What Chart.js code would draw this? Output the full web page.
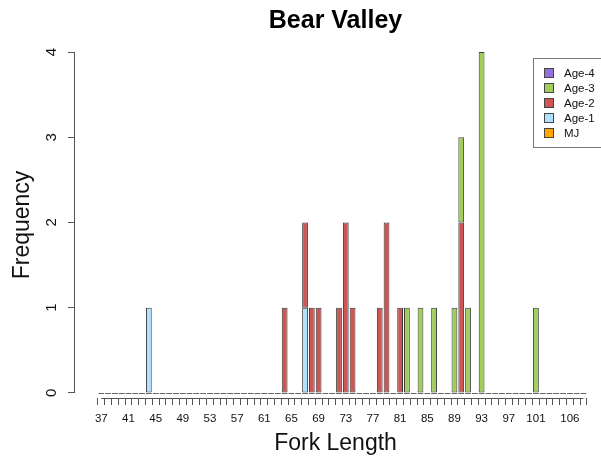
<!DOCTYPE html>
<html lang="en">
<head>
<meta charset="UTF-8">
<title>Bear Valley</title>
<script src="https://cdn.jsdelivr.net/npm/chart.js"></script>
<style>
    html, body { margin: 0; padding: 0; background: #fff; }
    .chart-box { width: 601px; height: 461px; }
</style>
</head>
<body>
<div class="chart-box">
    <canvas id="forkChart" width="601" height="461"></canvas>
</div>
<script>
    // Fork length bins (cm) 37..108
    const forkLengths = [37,38,39,40,41,42,43,44,45,46,47,48,49,50,51,52,53,54,55,56,57,58,59,60,
        61,62,63,64,65,66,67,68,69,70,71,72,73,74,75,76,77,78,79,80,81,82,83,84,
        85,86,87,88,89,90,91,92,93,94,95,96,97,98,99,100,101,102,103,104,105,106,107,108];
    const xLabels = [37,41,45,49,53,57,61,65,69,73,77,81,85,89,93,97,101,106];
    const yTicks = [0,1,2,3,4];

    //                37         45         53         61         69         77         85         93         101        108
    const mj      = [0,0,0,0,0,0,0,0, 0,0,0,0,0,0,0,0, 0,0,0,0,0,0,0,0, 0,0,0,0,0,0,0,0, 0,0,0,0,0,0,0,0, 0,0,0,0,0,0,0,0, 0,0,0,0,0,0,0,0, 0,0,0,0,0,0,0,0, 0,0,0,0,0,0,0,0];
    const age1    = [0,0,0,0,0,0,0,1, 0,0,0,0,0,0,0,0, 0,0,0,0,0,0,0,0, 0,0,0,0,0,0,1,0, 0,0,0,0,0,0,0,0, 0,0,0,0,0,0,0,0, 0,0,0,0,0,0,0,0, 0,0,0,0,0,0,0,0, 0,0,0,0,0,0,0,0];
    const age2    = [0,0,0,0,0,0,0,0, 0,0,0,0,0,0,0,0, 0,0,0,0,0,0,0,0, 0,0,0,1,0,0,1,1, 1,0,0,1,2,1,0,0, 0,1,2,0,1,0,0,0, 0,0,0,0,0,2,0,0, 0,0,0,0,0,0,0,0, 0,0,0,0,0,0,0,0];
    const age3    = [0,0,0,0,0,0,0,0, 0,0,0,0,0,0,0,0, 0,0,0,0,0,0,0,0, 0,0,0,0,0,0,0,0, 0,0,0,0,0,0,0,0, 0,0,0,0,0,1,0,1, 0,1,0,0,1,1,1,0, 4,0,0,0,0,0,0,0, 1,0,0,0,0,0,0,0];
    const age4    = [0,0,0,0,0,0,0,0, 0,0,0,0,0,0,0,0, 0,0,0,0,0,0,0,0, 0,0,0,0,0,0,0,0, 0,0,0,0,0,0,0,0, 0,0,0,0,0,0,0,0, 0,0,0,0,0,0,0,0, 0,0,0,0,0,0,0,0, 0,0,0,0,0,0,0,0];

    const FONT = "'Liberation Sans', Arial, Helvetica, sans-serif";
    const AXIS_COLOR = '#555';

    function series(label, data, color) {
        return {
            label: label,
            data: data,
            backgroundColor: color,
            borderColor: '#3a3a3a',
            borderWidth: 1,
            borderSkipped: false,
            barPercentage: 0.85,
            categoryPercentage: 1
        };
    }

    // R-style axis lines (only from first to last tick) and zero-height bar dashes
    const rAxes = {
        id: 'rAxes',
        beforeDatasetsDraw(chart) {
            const ctx = chart.ctx;
            const xs = chart.scales.x, ys = chart.scales.y;
            const bar = chart.getDatasetMeta(0).data[0];
            const half = bar ? bar.width / 2 : 3;
            const y0 = Math.round(ys.getPixelForValue(0)) + 0.5;
            ctx.save();
            ctx.strokeStyle = '#666';
            ctx.lineWidth = 1;
            ctx.beginPath();
            forkLengths.forEach(v => {
                const px = xs.getPixelForValue(v);
                ctx.moveTo(px - half, y0);
                ctx.lineTo(px + half, y0);
            });
            ctx.stroke();
            ctx.restore();
        },
        afterDraw(chart) {
            const ctx = chart.ctx;
            const xs = chart.scales.x, ys = chart.scales.y;
            ctx.save();
            ctx.strokeStyle = AXIS_COLOR;
            ctx.lineWidth = 1;
            ctx.beginPath();
            const xl = Math.round(ys.right) - 0.5;
            ctx.moveTo(xl, ys.getPixelForValue(yTicks[0]));
            ctx.lineTo(xl, ys.getPixelForValue(yTicks[yTicks.length - 1]));
            const yl = Math.round(xs.top) + 0.5;
            ctx.moveTo(xs.getPixelForValue(forkLengths[0]), yl);
            ctx.lineTo(xs.getPixelForValue(forkLengths[forkLengths.length - 1]), yl);
            ctx.stroke();

            // legend box like R's legend()
            const items = [['Age-4', '#9370DB'], ['Age-3', '#A2CD5A'], ['Age-2', '#CD5555'], ['Age-1', '#B0E2FF'], ['MJ', '#FFA500']];
            ctx.strokeStyle = '#777';
            ctx.strokeRect(533.5, 58.5, 80, 89);
            ctx.font = '11.5px ' + FONT;
            ctx.textBaseline = 'middle';
            ctx.textAlign = 'left';
            items.forEach((it, i) => {
                const cy = 73 + i * 15;
                ctx.fillStyle = it[1];
                ctx.fillRect(544.5, cy - 4.5, 9, 9);
                ctx.strokeStyle = '#444';
                ctx.strokeRect(544.5, cy - 4.5, 9, 9);
                ctx.fillStyle = '#111';
                ctx.fillText(it[0], 564, cy + 0.5);
            });
            ctx.restore();
        }
    };

    new Chart(document.getElementById('forkChart'), {
        type: 'bar',
        data: {
            labels: forkLengths,
            datasets: [
                series('MJ', mj, '#FFA500'),
                series('Age-1', age1, '#B0E2FF'),
                series('Age-2', age2, '#CD5555'),
                series('Age-3', age3, '#A2CD5A'),
                series('Age-4', age4, '#9370DB')
            ]
        },
        options: {
            responsive: false,
            animation: false,
            layout: { padding: { left: 0, right: 5, top: 0, bottom: 0 } },
            scales: {
                x: {
                    type: 'linear',
                    stacked: true,
                    min: 33.66,
                    max: 109.31,
                    afterBuildTicks: scale => { scale.ticks = forkLengths.map(v => ({ value: v })); },
                    afterFit: scale => { scale.height = 63; },
                    border: { display: false },
                    grid: { drawOnChartArea: false, drawTicks: true, tickLength: 7, color: AXIS_COLOR },
                    ticks: {
                        autoSkip: false,
                        maxRotation: 0,
                        padding: 7,
                        color: '#111',
                        font: { family: FONT, size: 11.5 },
                        callback: value => xLabels.includes(value) ? String(value) : ''
                    },
                    title: {
                        display: true,
                        text: 'Fork Length',
                        color: '#111',
                        font: { family: FONT, size: 23 },
                        padding: { top: 0, bottom: 4 }
                    }
                },
                y: {
                    stacked: true,
                    min: -0.06,
                    max: 4,
                    afterBuildTicks: scale => { scale.ticks = yTicks.map(v => ({ value: v })); },
                    afterFit: scale => { scale.width = 75; },
                    border: { display: false },
                    grid: { drawOnChartArea: false, drawTicks: true, tickLength: 7, color: AXIS_COLOR },
                    ticks: {
                        minRotation: 90,
                        maxRotation: 90,
                        crossAlign: 'center',
                        padding: 12,
                        color: '#111',
                        font: { family: FONT, size: 15 }
                    },
                    title: {
                        display: true,
                        text: 'Frequency',
                        color: '#111',
                        font: { family: FONT, size: 23 },
                        padding: { top: 9, bottom: 0 }
                    }
                }
            },
            plugins: {
                legend: { display: false },
                tooltip: { enabled: false },
                title: {
                    display: true,
                    fullSize: false,
                    text: 'Bear Valley',
                    color: '#000',
                    font: { family: FONT, size: 25, weight: 'bold', lineHeight: 1.2 },
                    padding: { top: 6, bottom: 16 }
                }
            }
        },
        plugins: [rAxes]
    });
</script>
</body>
</html>
